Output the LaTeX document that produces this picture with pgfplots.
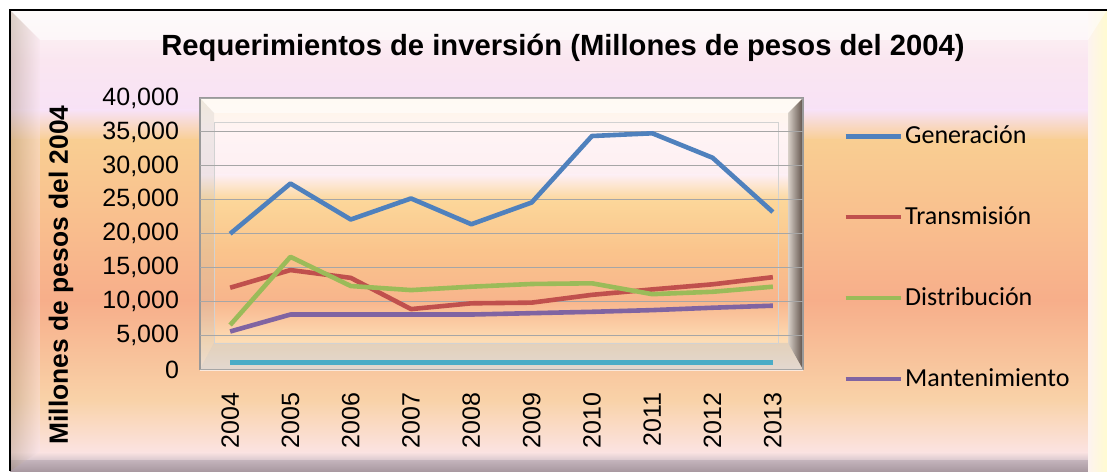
\documentclass[border=0pt]{standalone}
\usepackage{fontspec}
\setmainfont{Liberation Sans}
\newfontfamily\calib{Carlito}
\usepackage{pgfplots}
\pgfplotsset{compat=1.18}
\definecolor{cgen}{HTML}{4F81BD}
\definecolor{ctra}{HTML}{C0504D}
\definecolor{cdis}{HTML}{9BBB59}
\definecolor{cman}{HTML}{8064A2}
\definecolor{ccya}{HTML}{4BACC6}
\definecolor{cgrid}{HTML}{A6A6A6}
\definecolor{bgpink}{HTML}{FAE6F0}
\definecolor{bgtop}{HTML}{FDF3F0}
\definecolor{bgglow}{HTML}{FFFBD0}
\definecolor{bevlight}{HTML}{D8D0C8}
\definecolor{bevdark}{HTML}{5E5048}
% bands in image pixels (y measured from the top), colours as HTML codes
\newcommand\vband[6]{\definecolor{bandA}{HTML}{#3}\definecolor{bandB}{HTML}{#4}%
  \fill[top color=bandA,bottom color=bandB] (#5,{471-#1}) rectangle (#6,{471-#2-0.6});}
\begin{document}
\begin{tikzpicture}[x=0.5pt,y=0.5pt]
% chart background
\vband{10}{60}{FDF8F6}{FAE6F0}{10}{1107}
\vband{60}{110}{FAE6F0}{F8E2F6}{10}{1107}
\vband{110}{140}{F8E2F6}{F9CE92}{10}{1107}
\vband{140}{220}{F9CE92}{F9BF8E}{10}{1107}
\vband{220}{300}{F9BF8E}{F7AE8A}{10}{1107}
\vband{300}{400}{F7AE8A}{F9D2A8}{10}{1107}
\vband{400}{452}{F9D2A8}{FBE3E2}{10}{1107}
\vband{452}{460}{FBE3E2}{D8C8CE}{10}{1107}
\vband{460}{471}{C4B4BC}{A898A0}{10}{1107}
\shade[left color=black!45!brown!60, right color=bgpink, opacity=0.4] (10,0) -- (10,461) -- (40,431) -- (40,20) -- cycle;
\shade[left color=bgtop, right color=bgglow] (1088,0) rectangle (1107,461);
\fill[white, opacity=0.5] (10,461) -- (1107,461) -- (1088,431) -- (40,431) -- cycle;
\draw[line width=1.2pt] (10,0) -- (10,461) -- (1107,461);
% title
\node[font=\bfseries\fontsize{14.6}{17}\selectfont] at (563,{471-48}) {Requerimientos de inversión (Millones de pesos del 2004)};
% plot area background
\vband{98}{130}{FFF6E6}{FFF4F4}{200}{803}
\vband{130}{175}{FFF4F4}{FDEFF3}{200}{803}
\vband{175}{200}{FDEFF3}{FCD79A}{200}{803}
\vband{200}{250}{FCD79A}{FAC48C}{200}{803}
\vband{250}{300}{FAC48C}{F8B58C}{200}{803}
\vband{300}{340}{F8B58C}{FDDCB4}{200}{803}
\vband{340}{369.5}{FDDCB4}{FBE9DC}{200}{803}
\fill[white, opacity=0.55] (200,373) -- (803,373) -- (788,358) -- (214,358) -- cycle;
\fill[black!30, opacity=0.2] (200,373) -- (214,358) -- (214,128) -- (200,101.5) -- cycle;
\shade[left color=bevlight, right color=bevdark] (788,358) -- (803,373) -- (803,101.5) -- (788,128) -- cycle;
\fill[gray!50, opacity=0.4] (200,101.5) -- (803,101.5) -- (788,128) -- (214,128) -- cycle;
\draw[gray!35, line width=0.4pt] (214,128) rectangle (778,349);
\draw[gray!80, line width=0.6pt] (200,101.5) rectangle (803,373);
\begin{axis}[
  at={(100pt,50.75pt)}, anchor=south west,
  scale only axis, width=301.5pt, height=135.75pt,
  xmin=-0.5, xmax=9.5, ymin=0, ymax=40000,
  axis line style={draw=none},
  ymajorgrids, grid style={color=cgrid, line width=0.5pt},
  ytick={0,5000,...,40000},
  xtick={0,...,9},
  xticklabels={2004,2005,2006,2007,2008,2009,2010,2011,2012,2013},
  major tick length=0pt,
  scaled y ticks=false,
  /pgf/number format/.cd, fixed, 1000 sep={,}, assume math mode=true,
  /pgfplots/.cd,
  tick label style={font=\fontsize{12.5}{14}\selectfont},
  yticklabel style={xshift=-7pt},
  xticklabel style={yshift=-8pt, rotate=90, anchor=east},
  every axis y label/.style={at={(rel axis cs:-0.2305,0.348)}, rotate=90, anchor=center},
  ylabel={\bfseries\fontsize{13.2}{15}\selectfont Millones de pesos del 2004},
  legend style={at={(rel axis cs:1.066,0.908)}, anchor=north west, draw=none, fill=none,
    inner sep=0pt, row sep=27.6pt, font=\calib\fontsize{13}{15}\selectfont, nodes={inner sep=1.2pt}},
  legend cell align=left,
  legend image code/.code={\draw[#1] (0pt,0pt) -- (27.5pt,0pt);},
  every axis plot/.append style={line width=2.3pt, line join=round},
]
\addplot[color=cgen] coordinates {(0,20000) (1,27400) (2,22100) (3,25200) (4,21400) (5,24600) (6,34400) (7,34800) (8,31200) (9,23200)};
\addlegendentry{Generación}
\addplot[color=ctra] coordinates {(0,12050) (1,14650) (2,13500) (3,8900) (4,9750) (5,9850) (6,11000) (7,11800) (8,12550) (9,13600)};
\addlegendentry{Transmisión}
\addplot[color=cdis] coordinates {(0,6550) (1,16600) (2,12300) (3,11700) (4,12200) (5,12600) (6,12700) (7,11100) (8,11450) (9,12200)};
\addlegendentry{Distribución}
\addplot[color=cman] coordinates {(0,5600) (1,8100) (2,8100) (3,8100) (4,8100) (5,8300) (6,8500) (7,8750) (8,9100) (9,9400)};
\addlegendentry{Mantenimiento}
\addplot[color=ccya, forget plot] coordinates {(0,1000) (1,1000) (2,1000) (3,1000) (4,1000) (5,1000) (6,1000) (7,1000) (8,1000) (9,1000)};
\end{axis}
\pgfresetboundingbox
\path[use as bounding box] (0,0) rectangle (1107,471);
\end{tikzpicture}
\end{document}
